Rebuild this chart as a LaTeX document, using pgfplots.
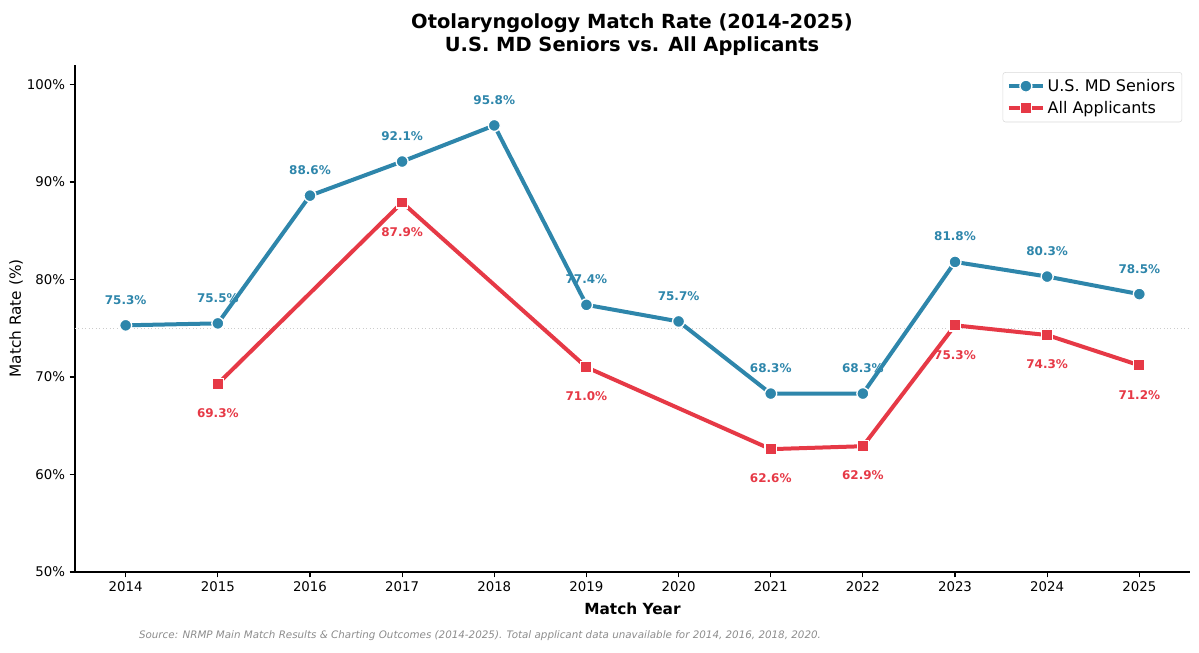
\documentclass[border=0pt]{standalone}
\usepackage{fontspec}
\setmainfont{DejaVu Sans}
\usepackage{pgfplots}
\pgfplotsset{compat=1.18}

\definecolor{mdblue}{HTML}{2E86AB}
\definecolor{allred}{HTML}{E63946}

\begin{document}
\begin{tikzpicture}
\useasboundingbox (0,0) rectangle (899.25pt,489.75pt);
\begin{axis}[
    at={(56.25pt,60.75pt)}, anchor=south west,
    width=836.25pt, height=380.25pt, scale only axis,
    xmin=2013.45, xmax=2025.55,
    ymin=50, ymax=102,
    xtick={2014,2015,...,2025},
    ytick={50,60,70,80,90,100},
    yticklabel={\pgfmathprintnumber{\tick}\%},
    /pgf/number format/1000 sep={},
    /pgf/number format/assume math mode=true,
    tick label style={font=\fontsize{10}{12}\selectfont},
    axis x line*=bottom, axis y line*=left,
    tick align=outside, major tick length=4pt,
    tick style={black, line width=0.8pt},
    axis line style={black, line width=0.8pt},
    xlabel={\bfseries Match Year},
    ylabel={Match Rate (\%)},
    xlabel style={font=\fontsize{11.5}{13}\selectfont, yshift=-1pt},
    ylabel style={font=\fontsize{11.5}{13}\selectfont, yshift=-4pt},
    legend style={at={(0.993,0.986)}, anchor=north east, draw=black!15, rounded corners=2pt,
        font=\fontsize{12}{14}\selectfont, row sep=2pt, inner sep=3pt},
    legend cell align=left,
    legend image code/.code={\draw[mark repeat=2, mark phase=2] plot coordinates {(0cm,0cm) (0.45cm,0cm) (0.9cm,0cm)};},
    nodes near coords={\pgfmathprintnumber[fixed,fixed zerofill,precision=1]{\pgfplotspointmeta}\%},
    every node near coord/.append style={font=\bfseries\fontsize{9}{11}\selectfont, anchor=center},
    clip=false,
]
\addplot[forget plot, black!20, dotted, line width=0.6pt, no marks, nodes near coords={}] coordinates {(2013.45,75) (2025.55,75)};
\addplot[mdblue, line width=3pt, mark=*, mark size=4.5pt,
    mark options={fill=mdblue, draw=white, line width=1pt},
    every node near coord/.append style={text=mdblue, yshift=19pt}]
coordinates {
    (2014,75.3) (2015,75.5) (2016,88.6) (2017,92.1) (2018,95.8) (2019,77.4)
    (2020,75.7) (2021,68.3) (2022,68.3) (2023,81.8) (2024,80.3) (2025,78.5)
};
\addplot[allred, line width=3pt, mark=square*, mark size=4.2pt,
    mark options={fill=allred, draw=white, line width=1pt},
    every node near coord/.append style={text=allred, yshift=-22pt}]
coordinates {
    (2015,69.3) (2017,87.9) (2019,71.0) (2021,62.6)
    (2022,62.9) (2023,75.3) (2024,74.3) (2025,71.2)
};
\legend{U.S. MD Seniors, All Applicants}
\end{axis}
\node[font=\bfseries\fontsize{14.6}{17.5}\selectfont, align=center] at (474pt,464pt)
    {Otolaryngology Match Rate (2014-2025)\\U.S. MD Seniors vs. All Applicants};
\node[font=\itshape\fontsize{7.75}{10}\selectfont, text=black!45] at (360pt,12.75pt)
    {Source: NRMP Main Match Results \& Charting Outcomes (2014-2025). Total applicant data unavailable for 2014, 2016, 2018, 2020.};
\end{tikzpicture}
\end{document}
